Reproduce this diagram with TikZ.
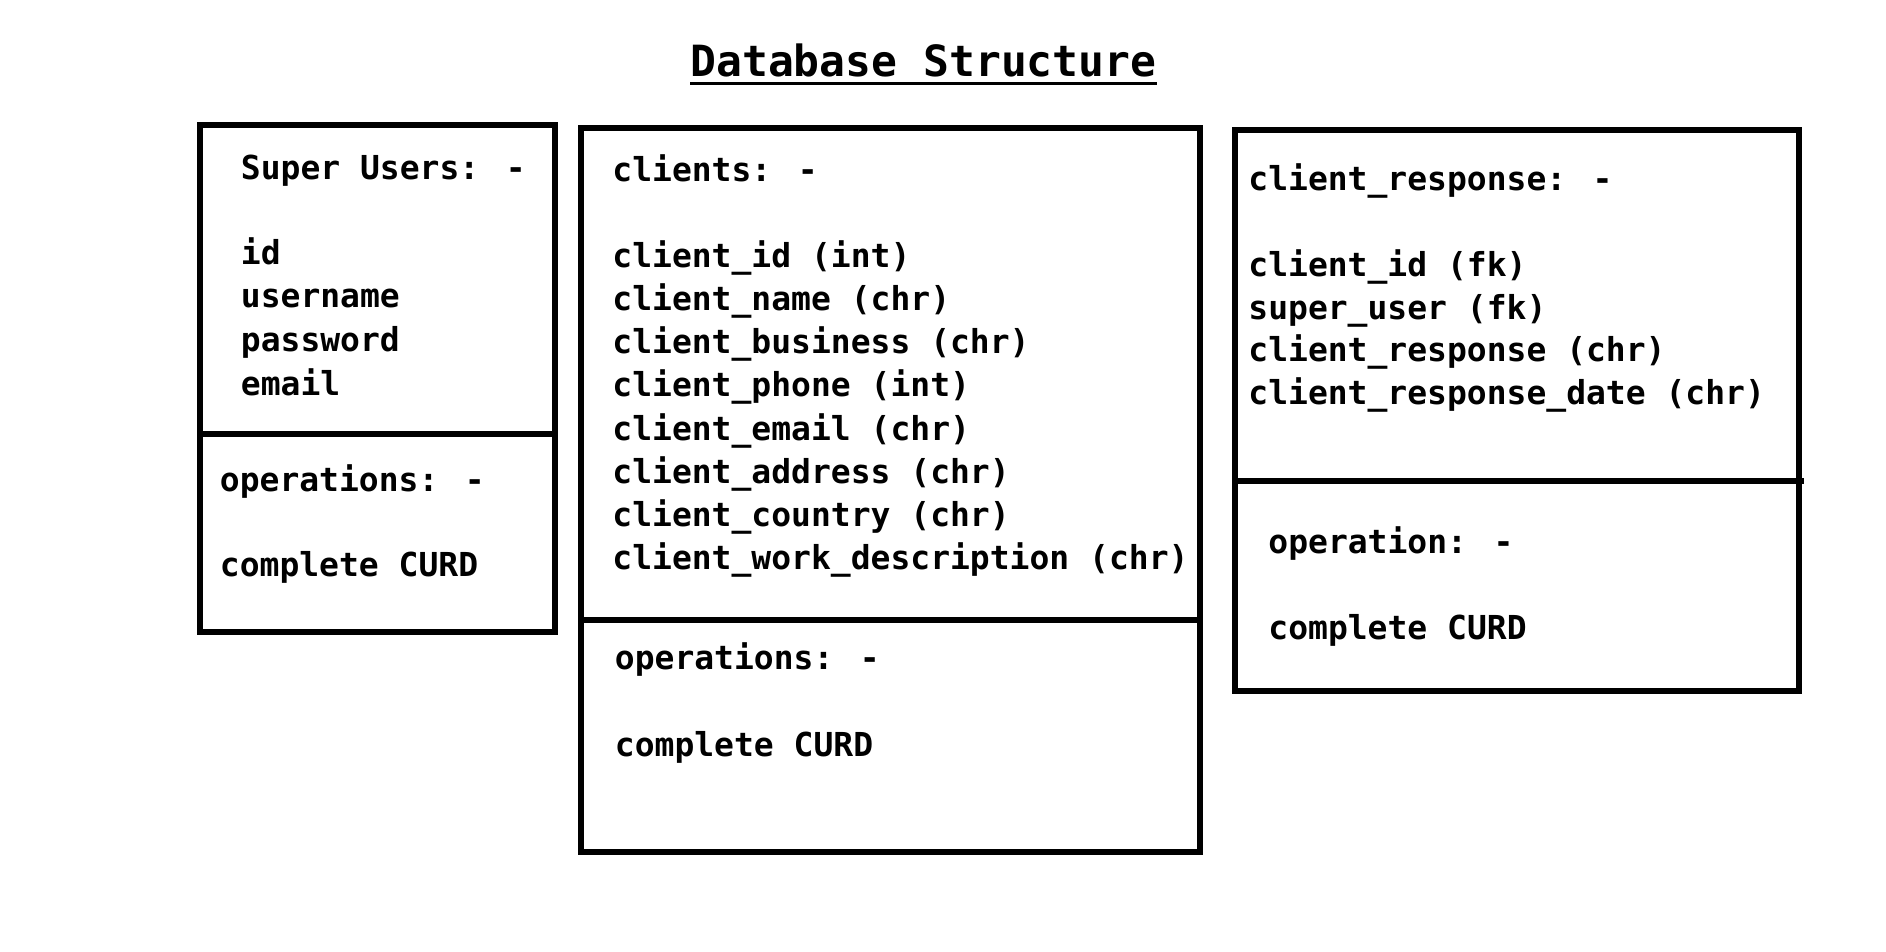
\documentclass[tikz,border=0pt]{standalone}
\usepackage{fontspec}
\newfontfamily\dbmono{DejaVu Sans Mono}
\newcommand{\fieldfont}{\dbmono\bfseries\fontsize{16.5pt}{21.5pt}\selectfont}
\newcommand{\titlefont}{\dbmono\bfseries\fontsize{21.5pt}{26pt}\selectfont}
\tikzset{
  field/.style={anchor=base west, inner sep=0pt, font=\fieldfont},
  tablebox/.style={line width=2.6pt},
}
\begin{document}
\begin{tikzpicture}[x=0.5pt,y=-0.5pt]
\useasboundingbox (0,0) rectangle (1886,952);
% title
\node[anchor=base west, inner sep=0pt, font=\titlefont] (title) at (690,77) {Database Structure};
\draw[line width=1.8pt] ([yshift=-3.2pt]title.base west) -- ([yshift=-3.2pt]title.base east);

% Super Users box
\draw[tablebox] (200,125) rectangle (555,632);
\draw[tablebox] (200,434) -- (555,434);
\node[field] (su0) at (240.5,180) {Super Users: -};
\node[field] (su1) at (240.5,265) {id};
\node[field] (su2) at (240.5,308) {username};
\node[field] (su3) at (240.5,352) {password};
\node[field] (su4) at (240.5,395) {email};
\node[field] (suop) at (219.5,491) {operations: -};
\node[field] (sucu) at (219.5,576) {complete CURD};

% clients box
\draw[tablebox] (581,128) rectangle (1200,852);
\draw[tablebox] (581,620) -- (1200,620);
\node[field] (cl0) at (612,182) {clients: -};
\node[field] (cl1) at (612,268) {client\_id (int)};
\node[field] (cl2) at (612,311) {client\_name (chr)};
\node[field] (cl3) at (612,354) {client\_business (chr)};
\node[field] (cl4) at (612,397) {client\_phone (int)};
\node[field] (cl5) at (612,440) {client\_email (chr)};
\node[field] (cl6) at (612,483) {client\_address (chr)};
\node[field] (cl7) at (612,526) {client\_country (chr)};
\node[field] (cl8) at (612,569) {client\_work\_description (chr)};
\node[field] (clop) at (614.5,669) {operations: -};
\node[field] (clcu) at (614.5,756) {complete CURD};

% client_response box
\draw[tablebox] (1235,130) rectangle (1799,691);
\draw[tablebox] (1235,481) -- (1804,481);
\node[field] (cr0) at (1248,191) {client\_response: -};
\node[field] (cr1) at (1248,277) {client\_id (fk)};
\node[field] (cr2) at (1248,320) {super\_user (fk)};
\node[field] (cr3) at (1248,362) {client\_response (chr)};
\node[field] (cr4) at (1248,405) {client\_response\_date (chr)};
\node[field] (crop) at (1268,553) {operation: -};
\node[field] (crcu) at (1268,639) {complete CURD};
\end{tikzpicture}
\end{document}
